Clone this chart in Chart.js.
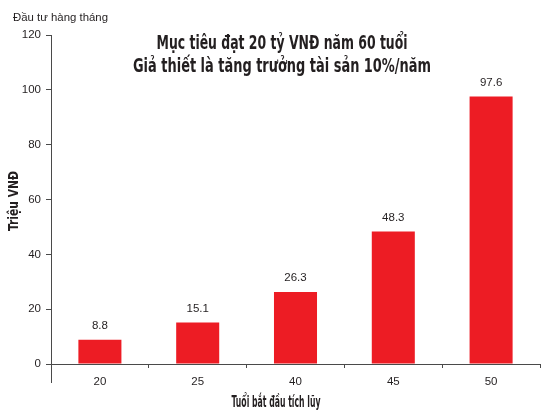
<!DOCTYPE html>
<html>
<head>
<meta charset="utf-8">
<script src="https://cdn.jsdelivr.net/npm/chart.js@4/dist/chart.umd.min.js"></script>
<style>
  body { margin: 0; background: #fff; }
  #wrap { width: 544px; height: 410px; position: relative; }
</style>
</head>
<body>
<div id="wrap"><canvas id="savingChart"></canvas></div>
<script>
// Monthly investment needed to reach 20 billion VND at age 60
const startAges = ['20', '25', '40', '45', '50'];
const monthlyAmounts = [8.8, 15.1, 26.3, 48.3, 97.6];
const yMin = 0;
const yMax = 120;
const yStep = 20;

const titleLines = ['Mục tiêu đạt 20 tỷ VNĐ năm 60 tuổi', 'Giả thiết là tăng trưởng tài sản 10%/năm'];
const cornerNote = 'Đầu tư hàng tháng';
const xTitle = 'Tuổi bắt đầu tích lũy';
const yTitle = 'Triệu VNĐ';

const textColor = '#231f20';
const axisColor = '#4a4a4a';
const heavyFont = "'DejaVu Sans Condensed', 'DejaVu Sans', sans-serif";
const baseFont = "'Liberation Sans', Arial, sans-serif";

Chart.defaults.font.family = baseFont;
Chart.defaults.color = textColor;

// titles, value labels and the axis extension
const decorPlugin = {
    id: 'decor',
    afterDatasetsDraw(chart) {
        const ctx = chart.ctx;
        const meta = chart.getDatasetMeta(0);
        ctx.save();
        ctx.fillStyle = textColor;
        ctx.font = '11.5px ' + baseFont;
        ctx.textAlign = 'center';
        ctx.textBaseline = 'middle';
        meta.data.forEach((bar, i) => {
            ctx.fillText(monthlyAmounts[i].toFixed(1), bar.x, bar.y - 14);
        });
        ctx.restore();
    },
    afterDraw(chart) {
        const ctx = chart.ctx;
        const area = chart.chartArea;
        ctx.save();

        // y axis runs on below the x axis
        ctx.strokeStyle = axisColor;
        ctx.lineWidth = 1;
        ctx.beginPath();
        ctx.moveTo(Math.round(area.left) + 0.5, area.bottom);
        ctx.lineTo(Math.round(area.left) + 0.5, area.bottom + 19);
        ctx.stroke();

        ctx.fillStyle = textColor;
        ctx.textAlign = 'center';
        ctx.textBaseline = 'alphabetic';

        ctx.font = 'bold 20px ' + heavyFont;
        ctx.fillText(titleLines[0], 282, 49, 251);
        ctx.fillText(titleLines[1], 282, 72, 298);

        ctx.font = 'bold 15px ' + heavyFont;
        ctx.fillText(xTitle, 276, 407, 89);

        ctx.textAlign = 'left';
        ctx.font = '11.5px ' + baseFont;
        ctx.fillText(cornerNote, 13, 20.5, 95);

        ctx.translate(18, 201);
        ctx.rotate(-Math.PI / 2);
        ctx.textAlign = 'center';
        ctx.font = 'bold 14px ' + heavyFont;
        ctx.fillText(yTitle, 0, 0, 60);

        ctx.restore();
    }
};

new Chart(document.getElementById('savingChart'), {
    type: 'bar',
    data: {
        labels: startAges,
        datasets: [{
            data: monthlyAmounts,
            backgroundColor: '#ed1c24',
            borderWidth: 0,
            categoryPercentage: 1,
            barPercentage: 0.44
        }]
    },
    options: {
        responsive: true,
        maintainAspectRatio: false,
        animation: false,
        layout: {
            padding: { top: 35, right: 4, left: 0, bottom: 0 }
        },
        plugins: {
            legend: { display: false },
            tooltip: { enabled: false },
            title: { display: false }
        },
        scales: {
            x: {
                afterFit(scale) { scale.height = 46; },
                grid: {
                    display: true,
                    drawOnChartArea: false,
                    drawTicks: true,
                    tickLength: 4,
                    color: axisColor,
                    offset: true
                },
                border: { display: true, color: axisColor },
                ticks: {
                    padding: 7,
                    font: { size: 11.5 },
                    color: textColor
                }
            },
            y: {
                min: yMin,
                max: yMax,
                afterFit(scale) { scale.width = 51; },
                grid: {
                    display: true,
                    drawOnChartArea: false,
                    drawTicks: true,
                    tickLength: 5,
                    color: axisColor
                },
                border: { display: true, color: axisColor },
                ticks: {
                    stepSize: yStep,
                    padding: 5,
                    font: { size: 11.5 },
                    color: textColor
                }
            }
        }
    },
    plugins: [decorPlugin]
});
</script>
</body>
</html>
